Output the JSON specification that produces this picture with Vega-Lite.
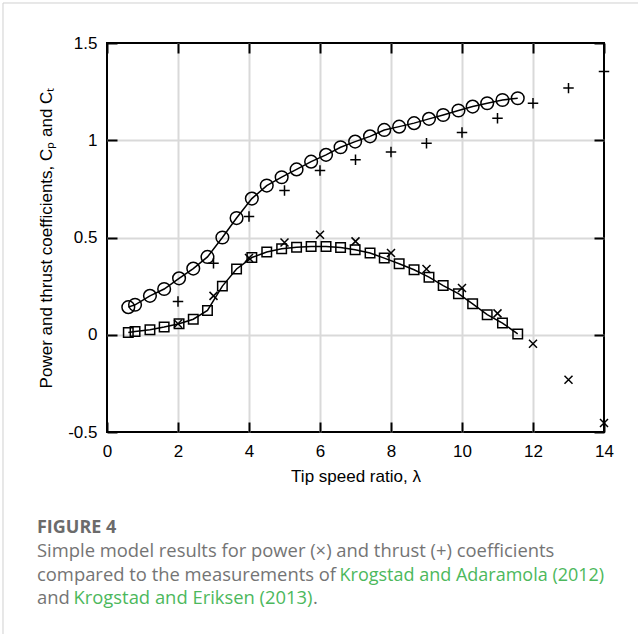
{
  "$schema": "https://vega.github.io/schema/vega-lite/v6.json",
  "width": 497,
  "height": 389,
  "autosize": {"type": "none"},
  "padding": {"left": 107, "top": 43, "right": 34, "bottom": 202},
  "background": "white",
  "config": {
    "view": {"stroke": "black", "strokeWidth": 2},
    "axis": {
      "domain": false,
      "ticks": true,
      "tickColor": "black",
      "tickWidth": 2,
      "labelFont": "Liberation Sans",
      "labelFontSize": 17,
      "labelColor": "black",
      "labelFlush": false,
      "titleFont": "Liberation Sans",
      "titleFontSize": 17,
      "titleFontWeight": "normal",
      "titleColor": "black",
      "gridColor": "#d9d9d9",
      "gridWidth": 2
    }
  },
  "datasets": {
    "pts": [
      {"s": "CTm", "lambda": 0.60, "c": 0.142}, {"s": "CTm", "lambda": 0.79, "c": 0.154}, {"s": "CTm", "lambda": 1.21, "c": 0.200}, {"s": "CTm", "lambda": 1.61, "c": 0.235},
      {"s": "CTm", "lambda": 2.03, "c": 0.290}, {"s": "CTm", "lambda": 2.43, "c": 0.340}, {"s": "CTm", "lambda": 2.83, "c": 0.400}, {"s": "CTm", "lambda": 3.25, "c": 0.500},
      {"s": "CTm", "lambda": 3.65, "c": 0.600}, {"s": "CTm", "lambda": 4.08, "c": 0.700}, {"s": "CTm", "lambda": 4.50, "c": 0.767}, {"s": "CTm", "lambda": 4.92, "c": 0.810},
      {"s": "CTm", "lambda": 5.34, "c": 0.850}, {"s": "CTm", "lambda": 5.75, "c": 0.890}, {"s": "CTm", "lambda": 6.17, "c": 0.925}, {"s": "CTm", "lambda": 6.58, "c": 0.964},
      {"s": "CTm", "lambda": 6.99, "c": 0.993}, {"s": "CTm", "lambda": 7.41, "c": 1.020}, {"s": "CTm", "lambda": 7.81, "c": 1.053}, {"s": "CTm", "lambda": 8.23, "c": 1.070},
      {"s": "CTm", "lambda": 8.65, "c": 1.088}, {"s": "CTm", "lambda": 9.07, "c": 1.110}, {"s": "CTm", "lambda": 9.47, "c": 1.130}, {"s": "CTm", "lambda": 9.90, "c": 1.153},
      {"s": "CTm", "lambda": 10.30, "c": 1.173}, {"s": "CTm", "lambda": 10.71, "c": 1.190}, {"s": "CTm", "lambda": 11.14, "c": 1.207}, {"s": "CTm", "lambda": 11.57, "c": 1.216},
      {"s": "CPm", "lambda": 0.60, "c": 0.012}, {"s": "CPm", "lambda": 0.79, "c": 0.017}, {"s": "CPm", "lambda": 1.21, "c": 0.026}, {"s": "CPm", "lambda": 1.61, "c": 0.040},
      {"s": "CPm", "lambda": 2.03, "c": 0.057}, {"s": "CPm", "lambda": 2.43, "c": 0.080}, {"s": "CPm", "lambda": 2.83, "c": 0.125}, {"s": "CPm", "lambda": 3.25, "c": 0.250},
      {"s": "CPm", "lambda": 3.65, "c": 0.338}, {"s": "CPm", "lambda": 4.08, "c": 0.397}, {"s": "CPm", "lambda": 4.50, "c": 0.425}, {"s": "CPm", "lambda": 4.92, "c": 0.442},
      {"s": "CPm", "lambda": 5.34, "c": 0.450}, {"s": "CPm", "lambda": 5.75, "c": 0.454}, {"s": "CPm", "lambda": 6.17, "c": 0.454}, {"s": "CPm", "lambda": 6.58, "c": 0.449},
      {"s": "CPm", "lambda": 6.99, "c": 0.437}, {"s": "CPm", "lambda": 7.41, "c": 0.420}, {"s": "CPm", "lambda": 7.81, "c": 0.394}, {"s": "CPm", "lambda": 8.23, "c": 0.365},
      {"s": "CPm", "lambda": 8.65, "c": 0.334}, {"s": "CPm", "lambda": 9.07, "c": 0.296}, {"s": "CPm", "lambda": 9.47, "c": 0.253}, {"s": "CPm", "lambda": 9.90, "c": 0.211},
      {"s": "CPm", "lambda": 10.30, "c": 0.159}, {"s": "CPm", "lambda": 10.71, "c": 0.103}, {"s": "CPm", "lambda": 11.14, "c": 0.060}, {"s": "CPm", "lambda": 11.57, "c": 0.004},
      {"s": "CPx", "lambda": 2, "c": 0.057}, {"s": "CPx", "lambda": 3, "c": 0.200}, {"s": "CPx", "lambda": 4, "c": 0.395}, {"s": "CPx", "lambda": 5, "c": 0.474},
      {"s": "CPx", "lambda": 6, "c": 0.514}, {"s": "CPx", "lambda": 7, "c": 0.480}, {"s": "CPx", "lambda": 8, "c": 0.420}, {"s": "CPx", "lambda": 9, "c": 0.338},
      {"s": "CPx", "lambda": 10, "c": 0.240}, {"s": "CPx", "lambda": 11, "c": 0.110}, {"s": "CPx", "lambda": 12, "c": -0.046}, {"s": "CPx", "lambda": 13, "c": -0.231},
      {"s": "CPx", "lambda": 14, "c": -0.454},
      {"s": "CTx", "lambda": 2, "c": 0.171}, {"s": "CTx", "lambda": 3, "c": 0.368}, {"s": "CTx", "lambda": 4, "c": 0.608}, {"s": "CTx", "lambda": 5, "c": 0.742},
      {"s": "CTx", "lambda": 6, "c": 0.844}, {"s": "CTx", "lambda": 7, "c": 0.900}, {"s": "CTx", "lambda": 8, "c": 0.939}, {"s": "CTx", "lambda": 9, "c": 0.985},
      {"s": "CTx", "lambda": 10, "c": 1.040}, {"s": "CTx", "lambda": 11, "c": 1.113}, {"s": "CTx", "lambda": 12, "c": 1.190}, {"s": "CTx", "lambda": 13, "c": 1.268},
      {"s": "CTx", "lambda": 14, "c": 1.353}
    ]
  },
  "layer": [
    {
      "data": {"name": "pts"},
      "transform": [{"filter": "datum.s == 'CTm'"}],
      "mark": {"type": "line", "color": "black", "strokeWidth": 1.5},
      "encoding": {
        "x": {"field": "lambda", "type": "quantitative", "scale": {"domain": [0, 14], "nice": false, "zero": false},
              "axis": {"orient": "bottom", "values": [0, 2, 4, 6, 8, 10, 12, 14], "grid": true,
                       "gridOpacity": {"condition": {"test": "datum.value <= 0 || datum.value >= 14", "value": 0}, "value": 1},
                       "tickSize": -389, "tickDash": [10, 369, 10], "labelPadding": 400,
                       "title": "Tip speed ratio, λ", "titlePadding": 9, "labelExpr": "'' + datum.value"}},
        "y": {"field": "c", "type": "quantitative", "scale": {"domain": [-0.5, 1.5], "nice": false, "zero": false},
              "axis": {"orient": "left", "values": [-0.5, 0, 0.5, 1, 1.5], "grid": true,
                       "gridOpacity": {"condition": {"test": "datum.value <= -0.5 || datum.value >= 1.5", "value": 0}, "value": 1},
                       "tickSize": -497, "tickDash": [10, 477, 10], "labelPadding": 507,
                       "title": "Power and thrust coefficients, Cₚ and Cₜ", "titlePadding": 12, "labelExpr": "'' + datum.value"}}
      }
    },
    {
      "data": {"name": "pts"},
      "transform": [{"filter": "datum.s == 'CTm'"}],
      "mark": {"type": "point", "shape": "circle", "filled": false, "size": 160, "stroke": "black", "strokeWidth": 1.5, "opacity": 1},
      "encoding": {
        "x": {"field": "lambda", "type": "quantitative", "scale": {"domain": [0, 14], "nice": false, "zero": false}},
        "y": {"field": "c", "type": "quantitative", "scale": {"domain": [-0.5, 1.5], "nice": false, "zero": false}}
      }
    },
    {
      "data": {"name": "pts"},
      "transform": [{"filter": "datum.s == 'CPm'"}],
      "mark": {"type": "line", "color": "black", "strokeWidth": 1.5},
      "encoding": {
        "x": {"field": "lambda", "type": "quantitative", "scale": {"domain": [0, 14], "nice": false, "zero": false}},
        "y": {"field": "c", "type": "quantitative", "scale": {"domain": [-0.5, 1.5], "nice": false, "zero": false}}
      }
    },
    {
      "data": {"name": "pts"},
      "transform": [{"filter": "datum.s == 'CPm'"}],
      "mark": {"type": "point", "shape": "square", "filled": false, "size": 90, "stroke": "black", "strokeWidth": 1.5, "opacity": 1},
      "encoding": {
        "x": {"field": "lambda", "type": "quantitative", "scale": {"domain": [0, 14], "nice": false, "zero": false}},
        "y": {"field": "c", "type": "quantitative", "scale": {"domain": [-0.5, 1.5], "nice": false, "zero": false}}
      }
    },
    {
      "data": {"name": "pts"},
      "transform": [{"filter": "datum.s == 'CPx'"}],
      "mark": {"type": "point", "shape": "M-1,-1L1,1M-1,1L1,-1", "filled": false, "size": 64, "stroke": "black", "strokeWidth": 1.5, "opacity": 1},
      "encoding": {
        "x": {"field": "lambda", "type": "quantitative", "scale": {"domain": [0, 14], "nice": false, "zero": false}},
        "y": {"field": "c", "type": "quantitative", "scale": {"domain": [-0.5, 1.5], "nice": false, "zero": false}}
      }
    },
    {
      "data": {"name": "pts"},
      "transform": [{"filter": "datum.s == 'CTx'"}],
      "mark": {"type": "point", "shape": "M-1,0L1,0M0,-1L0,1", "filled": false, "size": 110, "stroke": "black", "strokeWidth": 1.5, "opacity": 1},
      "encoding": {
        "x": {"field": "lambda", "type": "quantitative", "scale": {"domain": [0, 14], "nice": false, "zero": false}},
        "y": {"field": "c", "type": "quantitative", "scale": {"domain": [-0.5, 1.5], "nice": false, "zero": false}}
      }
    },
    {
      "data": {"values": [{"t": "FIGURE 4"}]},
      "mark": {"type": "text", "align": "left", "baseline": "alphabetic", "font": "Open Sans", "fontSize": 18, "fontWeight": "bold", "color": "#6b6b6b"},
      "encoding": {
        "x": {"datum": -1.972, "type": "quantitative", "scale": {"domain": [0, 14], "nice": false, "zero": false}},
        "y": {"datum": -1.0193, "type": "quantitative", "scale": {"domain": [-0.5, 1.5], "nice": false, "zero": false}},
        "text": {"field": "t"}
      }
    },
    {
      "data": {"values": [{"t": "Simple model results for power (×) and thrust (+) coefficients"}]},
      "mark": {"type": "text", "align": "left", "baseline": "alphabetic", "font": "Open Sans", "fontSize": 18.4, "color": "#747474"},
      "encoding": {
        "x": {"datum": -1.972, "type": "quantitative", "scale": {"domain": [0, 14], "nice": false, "zero": false}},
        "y": {"datum": -1.1427, "type": "quantitative", "scale": {"domain": [-0.5, 1.5], "nice": false, "zero": false}},
        "text": {"field": "t"}
      }
    },
    {
      "data": {"values": [{"t": "compared to the measurements of"}]},
      "mark": {"type": "text", "align": "left", "baseline": "alphabetic", "font": "Open Sans", "fontSize": 18.4, "color": "#747474"},
      "encoding": {
        "x": {"datum": -1.972, "type": "quantitative", "scale": {"domain": [0, 14], "nice": false, "zero": false}},
        "y": {"datum": -1.2661, "type": "quantitative", "scale": {"domain": [-0.5, 1.5], "nice": false, "zero": false}},
        "text": {"field": "t"}
      }
    },
    {
      "data": {"values": [{"t": "and"}]},
      "mark": {"type": "text", "align": "left", "baseline": "alphabetic", "font": "Open Sans", "fontSize": 18.4, "color": "#747474"},
      "encoding": {
        "x": {"datum": -1.972, "type": "quantitative", "scale": {"domain": [0, 14], "nice": false, "zero": false}},
        "y": {"datum": -1.3843, "type": "quantitative", "scale": {"domain": [-0.5, 1.5], "nice": false, "zero": false}},
        "text": {"field": "t"}
      }
    },
    {
      "data": {"values": [{"t": "Krogstad and Adaramola (2012)"}]},
      "mark": {"type": "text", "align": "left", "baseline": "alphabetic", "font": "Open Sans", "fontSize": 18, "color": "#4cb85c"},
      "encoding": {
        "x": {"datum": 6.55, "type": "quantitative", "scale": {"domain": [0, 14], "nice": false, "zero": false}},
        "y": {"datum": -1.2661, "type": "quantitative", "scale": {"domain": [-0.5, 1.5], "nice": false, "zero": false}},
        "text": {"field": "t"}
      }
    },
    {
      "data": {"values": [{"t": "Krogstad and Eriksen (2013)"}]},
      "mark": {"type": "text", "align": "left", "baseline": "alphabetic", "font": "Open Sans", "fontSize": 18.4, "color": "#4cb85c"},
      "encoding": {
        "x": {"datum": -0.944, "type": "quantitative", "scale": {"domain": [0, 14], "nice": false, "zero": false}},
        "y": {"datum": -1.3843, "type": "quantitative", "scale": {"domain": [-0.5, 1.5], "nice": false, "zero": false}},
        "text": {"field": "t"}
      }
    },
    {
      "data": {"values": [{"t": "."}]},
      "mark": {"type": "text", "align": "left", "baseline": "alphabetic", "font": "Open Sans", "fontSize": 18.4, "color": "#747474"},
      "encoding": {
        "x": {"datum": 5.80, "type": "quantitative", "scale": {"domain": [0, 14], "nice": false, "zero": false}},
        "y": {"datum": -1.3843, "type": "quantitative", "scale": {"domain": [-0.5, 1.5], "nice": false, "zero": false}},
        "text": {"field": "t"}
      }
    },
    {
      "data": {"values": [{"t": "frame"}]},
      "mark": {"type": "rule", "color": "#d0d0d0", "strokeWidth": 1},
      "encoding": {
        "x": {"datum": -2.93, "type": "quantitative", "scale": {"domain": [0, 14], "nice": false, "zero": false}},
        "x2": {"datum": 14.96},
        "y": {"datum": 1.7057, "type": "quantitative", "scale": {"domain": [-0.5, 1.5], "nice": false, "zero": false}}
      }
    },
    {
      "data": {"values": [{"t": "frame"}]},
      "mark": {"type": "rule", "color": "#d0d0d0", "strokeWidth": 1},
      "encoding": {
        "x": {"datum": -2.93, "type": "quantitative", "scale": {"domain": [0, 14], "nice": false, "zero": false}},
        "y": {"datum": 1.7057, "type": "quantitative", "scale": {"domain": [-0.5, 1.5], "nice": false, "zero": false}},
        "y2": {"datum": -1.54}
      }
    }
  ]
}
